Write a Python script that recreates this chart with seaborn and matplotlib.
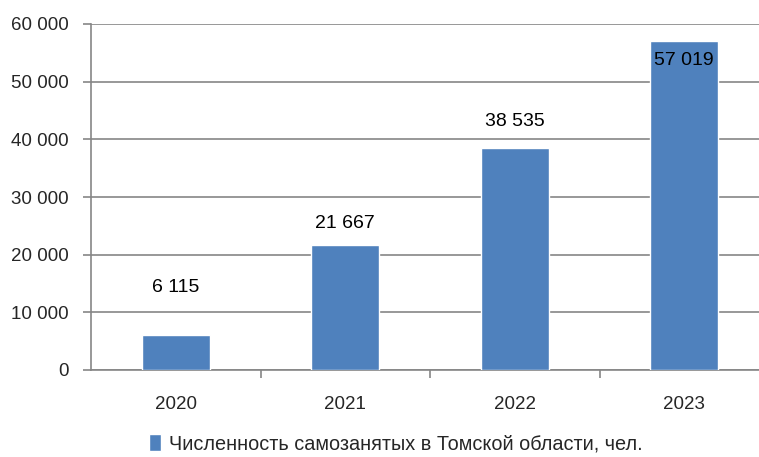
import matplotlib
matplotlib.use("Agg")
import matplotlib.pyplot as plt
import seaborn as sns
import pandas as pd
from matplotlib.ticker import FuncFormatter, FixedLocator

years = ["2020", "2021", "2022", "2023"]
values = [6115, 21667, 38535, 57019]
value_labels = ["6 115", "21 667", "38 535", "57 019"]
series_name = "Численность самозанятых в Томской области, чел."
label_offsets_px = [47, 22, 26, -19]

sns.set_theme(style="white")
plt.rcParams["font.family"] = ["Liberation Sans", "DejaVu Sans"]

df = pd.DataFrame({"year": years, "value": values})

fig = plt.figure(figsize=(7.59, 4.57), dpi=100)
ax = fig.add_axes([91/759, (457-370)/457, (759-91)/759, (370-24)/457])

bar_color = "#4F81BD"
sns.barplot(data=df, x="year", y="value", color=bar_color, width=0.4,
            saturation=1, ax=ax, label=series_name, zorder=3)

ax.set_ylim(0, 60000)
ax.set_xlim(-0.5, -0.5 + (759-91)/169.5)
ax.set_yticks(range(0, 60001, 10000))
ax.yaxis.set_major_formatter(FuncFormatter(lambda v, p: f"{int(v):,}".replace(",", " ")))
ax.grid(axis="y", color="#868686", linewidth=1.2, zorder=0)
ax.set_xlabel("")
ax.set_ylabel("")

for s in ["top", "right"]:
    ax.spines[s].set_visible(False)
for s in ["left", "bottom"]:
    ax.spines[s].set_color("#868686")
    ax.spines[s].set_linewidth(1.2)

ax.tick_params(axis="y", which="major", length=6, color="#868686", width=1.2,
               labelsize=13.5, pad=10, left=True)
ax.tick_params(axis="x", which="major", length=0, labelsize=13.5, pad=19)
ax.xaxis.set_minor_locator(FixedLocator([0.5, 1.5, 2.5]))
ax.tick_params(axis="x", which="minor", length=6, color="#868686", width=1.2, bottom=True)

for i, (v, lab, off) in enumerate(zip(values, value_labels, label_offsets_px)):
    ax.annotate(lab, xy=(i, v), xytext=(0, off * 0.72), textcoords="offset points",
                ha="center", va="center", fontsize=14, color="black", zorder=5)

handles, labels = ax.get_legend_handles_labels()
if ax.get_legend() is not None:
    ax.get_legend().remove()
fig.legend(handles[:1], labels[:1], loc="center", bbox_to_anchor=(0.522, 1 - 444/457),
           frameon=False, fontsize=14.3, handlelength=0.6, handleheight=0.9,
           handletextpad=0.4)

fig.savefig("out.png", dpi=100)
